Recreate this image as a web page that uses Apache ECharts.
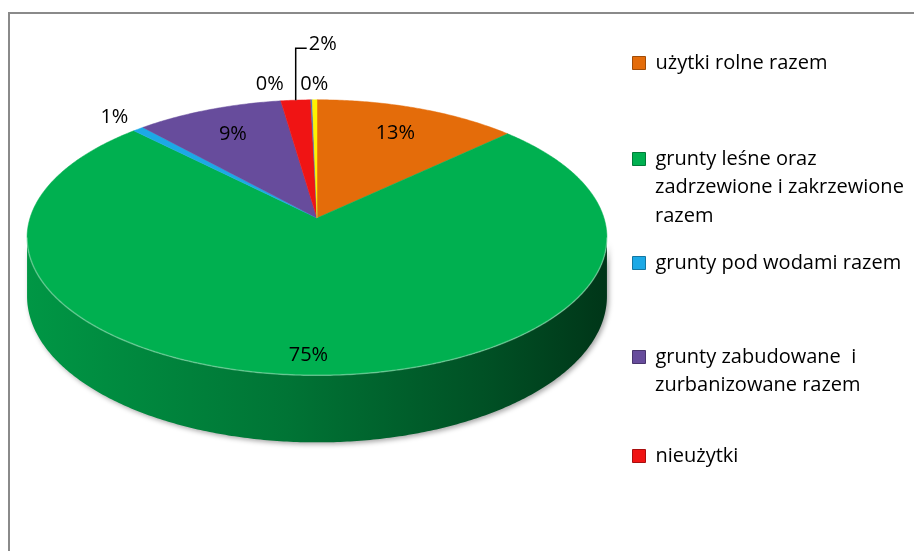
<!DOCTYPE html>
<html>
<head>
<meta charset="utf-8">
<script src="https://cdn.jsdelivr.net/npm/echarts@6/dist/echarts.min.js"></script>
<style>
html, body { margin: 0; padding: 0; background: #fff; }
#main { width: 914px; height: 551px; }
</style>
</head>
<body>
<div id="main"></div>
<script>
// dane
var categories = ['użytki rolne razem', 'grunty leśne oraz zadrzewione i zakrzewione razem', 'grunty pod wodami razem',
	'grunty zabudowane i zurbanizowane razem', 'nieużytki', 'użytki ekologiczne', 'tereny różne'];
var values = [13.0, 74.6, 0.7, 9.4, 1.9, 0.1, 0.3];
var legendLines = [
	['użytki rolne razem'],
	['grunty leśne oraz', 'zadrzewione i zakrzewione', 'razem'],
	['grunty pod wodami razem'],
	['grunty zabudowane  i', 'zurbanizowane razem'],
	['nieużytki']
];

var colors = ['#E46C0A', '#00B050', '#1CA9E6', '#674C9C', '#F01414', '#4F6FB8', '#FFF200'];
var FONT = '"Open Sans", "Noto Sans", sans-serif';
var P = 0.142;       // perspektywa
var DEPTH = 0.426;   // grubosc tortu (w jednostkach osi y)
var legendMid = [63, 159, 263, 357, 456];
var lineGap = 28.5;
// przesuniecia etykiet (jak w excelu, przeciagniete recznie)
var labelShift = { 1: [-4, 23], 5: [-41, 0] };
var leader = { 4: { rise: 52, run: 11 } };

var total = 0;
var starts = [];
for (var i = 0; i < values.length; i++) {
	starts.push(total);
	total += values[i];
}

function shade(hex, f) {
	var r = parseInt(hex.substr(1, 2), 16), g = parseInt(hex.substr(3, 2), 16), b = parseInt(hex.substr(5, 2), 16);
	return 'rgb(' + Math.round(r * f) + ',' + Math.round(g * f) + ',' + Math.round(b * f) + ')';
}

function makeRender(idx) {
	return function (params, api) {
		var a0 = starts[idx] / total * Math.PI * 2;
		var a1 = (starts[idx] + values[idx]) / total * Math.PI * 2;
		var mid = (a0 + a1) / 2;
		function proj(a, r, drop) {
			var px = r * Math.sin(a), pz = r * Math.cos(a);
			var s = 1 / (1 + P * pz);
			return api.coord([px * s, (pz - drop) * s]);
		}
		function arc(from, to, drop) {
			var pts = [];
			var n = Math.max(2, Math.ceil((to - from) / 0.01));
			for (var k = 0; k <= n; k++) {
				pts.push(proj(from + (to - from) * k / n, 1, drop));
			}
			return pts;
		}
		var children = [];
		var col = colors[idx];

		// sciana boczna (tylko przod)
		var wA = Math.acos(-P), wB = Math.PI * 2 - wA;
		var f0 = Math.max(a0, wA), f1 = Math.min(a1, wB);
		if (f1 > f0) {
			var top = arc(f0, f1, 0);
			var bot = arc(f0, f1, DEPTH).reverse();
			var xl = api.coord([-1.02, 0])[0], xr = api.coord([1.02, 0])[0];
			children.push({
				type: 'polygon',
				z2: 1,
				shape: { points: top.concat(bot) },
				style: {
					fill: new echarts.graphic.LinearGradient(xl, 0, xr, 0, [
						{ offset: 0, color: shade(col, 0.86) },
						{ offset: 0.45, color: shade(col, 0.66) },
						{ offset: 0.8, color: shade(col, 0.45) },
						{ offset: 1, color: shade(col, 0.3) }
					], true),
					shadowBlur: 5,
					shadowOffsetX: 2,
					shadowOffsetY: 2,
					shadowColor: 'rgba(0,0,0,0.35)'
				}
			});
			children.push({
				type: 'polyline',
				z2: 11,
				shape: { points: top },
				style: { stroke: 'rgba(255,255,255,0.3)', lineWidth: 1.5, fill: null }
			});
		}

		// wierzch
		var face = [api.coord([0, 0])].concat(arc(a0, a1, 0));
		children.push({
			type: 'polygon',
			z2: 10,
			shape: { points: face },
			style: { fill: col, stroke: col, lineWidth: 0.5 }
		});

		// etykieta
		var pct = Math.round(values[idx] / total * 100);
		var sh = labelShift[idx] || [0, 0];
		var txt = { text: pct + '%', font: '20px ' + FONT, fill: '#000', align: 'center', verticalAlign: 'middle' };
		if (leader[idx]) {
			var e = proj(mid, 1, 0);
			var L = leader[idx];
			children.push({
				type: 'polyline',
				z2: 20,
				shape: { points: [e, [e[0], e[1] - L.rise], [e[0] + L.run, e[1] - L.rise]] },
				style: { stroke: '#000', lineWidth: 1.5, fill: null }
			});
			txt.x = e[0] + L.run + 2;
			txt.y = e[1] - L.rise - 4;
			txt.align = 'left';
		} else {
			var p = pct >= 5 ? proj(mid, 0.755, 0) : proj(mid, 1.15, 0);
			txt.x = p[0] + sh[0];
			txt.y = p[1] + sh[1];
		}
		children.push({ type: 'text', z2: 20, style: txt });

		return { type: 'group', children: children };
	};
}

var series = categories.map(function (name, i) {
	return {
		name: name,
		type: 'custom',
		coordinateSystem: 'cartesian2d',
		clip: false,
		silent: true,
		itemStyle: { color: colors[i] },
		renderItem: makeRender(i),
		data: [[0, 0]]
	};
});

var legends = legendLines.map(function (lines, i) {
	return {
		data: [{ name: categories[i], itemStyle: { borderColor: shade(colors[i], 0.7), borderWidth: 1 } }],
		left: 632,
		top: legendMid[i] - 10,
		padding: 0,
		icon: 'rect',
		itemWidth: 13,
		itemHeight: 13,
		selectedMode: false,
		textStyle: { fontFamily: FONT, fontSize: 20, color: '#000', lineHeight: 20, padding: [0, 0, 0, 5] },
		formatter: function (n) {
			return legendLines[categories.indexOf(n)][0];
		}
	};
});

var graphics = [{
	type: 'rect',
	shape: { x: 9, y: 13, width: 1000, height: 1000 },
	style: { fill: null, stroke: '#8a8a8a', lineWidth: 2 }
}];
legendLines.forEach(function (lines, i) {
	for (var k = 1; k < lines.length; k++) {
		graphics.push({
			type: 'text',
			style: {
				x: 655,
				y: legendMid[i] + k * lineGap,
				text: lines[k],
				font: '20px ' + FONT,
				fill: '#000',
				verticalAlign: 'middle'
			}
		});
	}
});

var myChart = echarts.init(document.getElementById('main'));
var option = {
	animation: false,
	grid: { left: 30, top: 83, width: 574, height: 270 },
	xAxis: { type: 'value', min: -1, max: 1, show: false },
	yAxis: { type: 'value', min: -1, max: 1, show: false },
	legend: legends,
	graphic: graphics,
	series: series
};
myChart.setOption(option);
</script>
</body>
</html>
